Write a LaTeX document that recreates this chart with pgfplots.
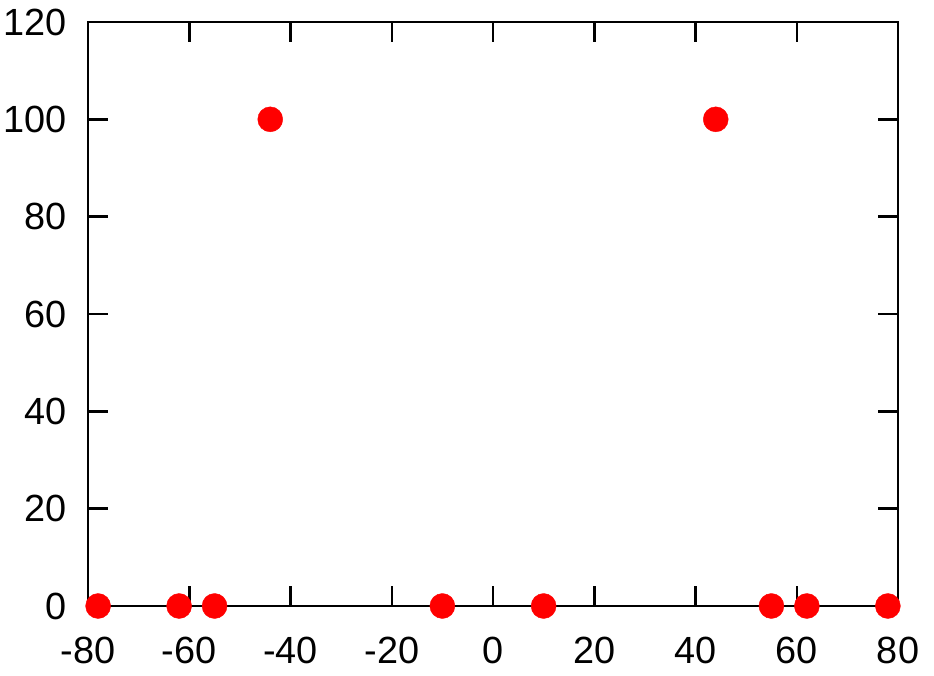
\documentclass[border=0pt]{standalone}
\usepackage{pgfplots}
\pgfplotsset{compat=1.18}
\usepackage{fontspec}
\setmainfont{Liberation Sans}
\begin{document}
\begin{tikzpicture}
\begin{axis}[
  scale only axis,
  width=810bp, height=584bp,
  xmin=-80, xmax=80, ymin=0, ymax=120,
  xtick={-80,-60,...,80}, ytick={0,20,...,120},
  tick align=inside,
  major tick length=20bp,
  axis line style={line width=2.5bp, black},
  every tick/.style={line width=2.5bp, black},
  tick label style={font=\fontsize{38}{44}\selectfont},
  /pgf/number format/assume math mode=true,
  xticklabel style={yshift=-28bp},
  yticklabel style={xshift=-18bp},
  clip=false,
  axis on top=true,
]
\addplot[only marks, mark=*, mark size=12.5bp, mark options={fill=red, draw=red}, color=red]
coordinates {
(-78,0) (-62,0) (-55,0) (-44,100) (-10,0) (10,0) (44,100) (55,0) (62,0) (78,0)
};
\end{axis}
\pgfresetboundingbox
\path[use as bounding box] (current axis.south west) ++(-88bp,-70bp) coordinate (bl)
  (current axis.north east) ++(36bp,22bp) coordinate (tr);
\path[use as bounding box] (bl) rectangle (tr);
\end{tikzpicture}
\end{document}
